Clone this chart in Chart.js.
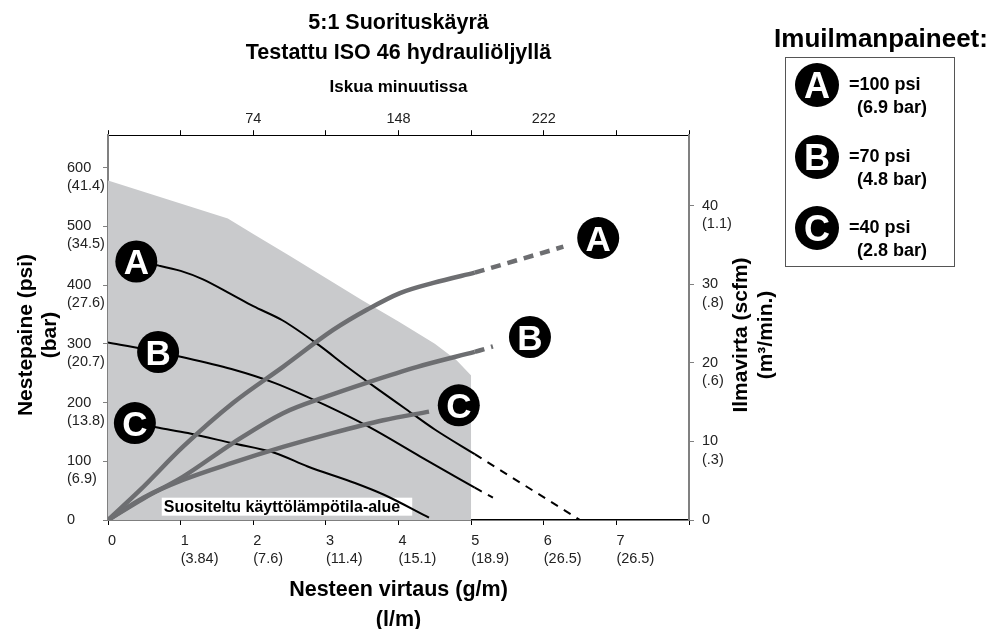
<!DOCTYPE html>
<html>
<head>
<meta charset="utf-8">
<script src="https://cdn.jsdelivr.net/npm/chart.js@4.4.1/dist/chart.umd.min.js"></script>
<style>
  html, body { margin: 0; padding: 0; background: #fff; }
</style>
</head>
<body>
<canvas id="pumpChart" width="993" height="629"></canvas>
<script>
// axis ticks and their metric equivalents
var flowTicks = [0, 1, 2, 3, 4, 5, 6, 7];
var flowLpm = ['', '(3.84)', '(7.6)', '(11.4)', '(15.1)', '(18.9)', '(26.5)', '(26.5)'];
var psiTicks = [0, 100, 200, 300, 400, 500, 600];
var psiBar = ['', '(6.9)', '(13.8)', '(20.7)', '(27.6)', '(34.5)', '(41.4)'];
var scfmTicks = [0, 10, 20, 30, 40];
var scfmM3 = ['', '(.3)', '(.6)', '(.8)', '(1.1)'];
var cycleLabels = [74, 148, 222];

// recommended operating range (grey area), flow g/m vs psi
var envelopeFlow = [0, 1.65, 2.0, 2.5, 3.0, 3.5, 4.0, 4.5, 4.8, 5.0, 5.0];
var envelopePsi = [578, 513, 487, 450, 412, 374, 338, 300, 272, 246, 0];

// fluid pressure curves (psi)
var pressFlowA = [0.39, 0.7, 1.0, 1.3, 1.7, 2.0, 2.4, 2.9, 3.3, 3.7, 4.1, 4.5, 5.05];
var pressPsiA = [440, 433, 424, 410, 384, 364, 340, 298, 260, 224, 189, 154, 112];
var pressDashFlowA = [5.05, 6.5];
var pressDashPsiA = [112, 0];
var pressFlowB = [0, 0.5, 1.0, 1.7, 2.3, 3.0, 3.6, 4.3, 5.05];
var pressPsiB = [302, 291, 278, 257, 233, 195, 158, 108, 55];
var pressDashFlowB = [5.05, 5.3];
var pressDashPsiB = [55, 38];
var pressFlowC = [0.37, 0.7, 1.1, 1.7, 2.3, 2.75, 3.4, 3.8, 4.42];
var pressPsiC = [165, 157, 148, 131, 114, 91, 63, 43, 4];

// air consumption curves (scfm)
var airFlowA = [0, 0.44, 1.03, 1.72, 2.41, 3.1, 3.57, 4.02, 4.48, 5.05];
var airScfmA = [0, 3.8, 9.3, 14.9, 19.5, 24.2, 26.8, 28.9, 30.2, 31.5];
var airDashFlowA = [5.05, 6.27];
var airDashScfmA = [31.5, 34.8];
var airFlowB = [0, 0.5, 1.03, 1.72, 2.41, 3.0, 3.57, 4.26, 5.05];
var airScfmB = [0, 2.8, 5.5, 9.8, 13.6, 15.7, 17.5, 19.5, 21.4];
var airDashFlowB = [5.05, 5.3];
var airDashScfmB = [21.4, 22.1];
var airFlowC = [0, 0.5, 1.03, 1.72, 2.41, 3.1, 3.79, 4.42];
var airScfmC = [0, 2.9, 5.1, 7.3, 9.3, 11.1, 12.7, 13.8];

// curve markers
var badgeLetters = ['A', 'B', 'C'];
var pressBadgeFlow = [0.39, 0.69, 0.37];
var pressBadgePsi = [440, 286, 165];
var airBadgeFlow = [6.75, 5.81, 4.83];
var airBadgeScfm = [35.9, 23.3, 14.6];

var legendTitle = 'Imuilmanpaineet:';
var legendLines = [['=100 psi', '(6.9 bar)'], ['=70 psi', '(4.8 bar)'], ['=40 psi', '(2.8 bar)']];
var rangeLabel = 'Suositeltu käyttölämpötila-alue';

var sans = "'Liberation Sans', Arial, Helvetica, sans-serif";
var AIR = '#6d6e71';
var AXIS_GREY = '#808080';

function pts(xs, ys) {
    return xs.map(function(x, i) { return { x: x, y: ys[i] }; });
}

function drawLetter(ctx, x, y, letter, size) {
    ctx.save();
    ctx.fillStyle = '#fff';
    ctx.font = 'bold ' + size + 'px ' + sans;
    ctx.textAlign = 'center';
    ctx.textBaseline = 'alphabetic';
    ctx.fillText(letter, x, y + size * 0.36);
    ctx.restore();
}

function pressLine(xs, ys, dashed) {
    return {
        data: pts(xs, ys), yAxisID: 'y', borderColor: '#000', borderWidth: 2,
        borderDash: dashed ? [8, 7] : [], pointRadius: 0,
        cubicInterpolationMode: 'monotone', fill: false, order: 2
    };
}

function airLine(xs, ys, dashed) {
    return {
        data: pts(xs, ys), yAxisID: 'y1', borderColor: AIR, borderWidth: 4.5,
        borderDash: dashed ? [10, 7] : [], pointRadius: 0, borderCapStyle: 'butt',
        cubicInterpolationMode: 'monotone', fill: false, order: 1
    };
}

// white label over the grey area, drawn right after the fill
var rangeLabelPlugin = {
    id: 'rangeLabel',
    afterDatasetDraw: function(chart, args) {
        if (chart.data.datasets[args.index].label !== 'envelope') return;
        var ctx = chart.ctx;
        var left = chart.scales.x.getPixelForValue(0.74);
        var top = chart.scales.y.getPixelForValue(38);
        ctx.save();
        ctx.font = 'bold 16px ' + sans;
        var w = ctx.measureText(rangeLabel).width;
        ctx.fillStyle = '#fff';
        ctx.fillRect(left, top, w + 14, 18);
        ctx.fillStyle = '#000';
        ctx.textBaseline = 'middle';
        ctx.fillText(rangeLabel, left + 2, top + 9.5);
        ctx.restore();
    }
};

var badgePlugin = {
    id: 'badges',
    afterDatasetsDraw: function(chart) {
        var ctx = chart.ctx;
        chart.data.datasets.forEach(function(ds, i) {
            if (!ds.badges) return;
            chart.getDatasetMeta(i).data.forEach(function(pt, j) {
                drawLetter(ctx, pt.x, pt.y, ds.badges[j], 35);
            });
        });
    }
};

// rotated side titles, both reading bottom to top
var sideTitlePlugin = {
    id: 'sideTitles',
    afterDraw: function(chart) {
        var ctx = chart.ctx;
        ctx.save();
        ctx.fillStyle = '#000';
        ctx.font = 'bold 21px ' + sans;
        ctx.textAlign = 'center';
        ctx.textBaseline = 'middle';
        [[26, 'Nestepaine (psi)'], [50, '(bar)'], [741, 'Ilmavirta (scfm)'], [766, '(m³/min.)']].forEach(function(t) {
            ctx.save();
            ctx.translate(t[0], 335);
            ctx.rotate(-Math.PI / 2);
            ctx.fillText(t[1], 0, 0);
            ctx.restore();
        });
        ctx.restore();
    }
};

var legendBoxPlugin = {
    id: 'legendBox',
    afterDraw: function(chart) {
        var ctx = chart.ctx;
        ctx.save();
        ctx.fillStyle = '#000';
        ctx.font = 'bold 26px ' + sans;
        ctx.textAlign = 'center';
        ctx.textBaseline = 'middle';
        ctx.fillText(legendTitle, 881, 40);
        ctx.strokeStyle = '#555';
        ctx.lineWidth = 1;
        ctx.strokeRect(785.5, 57.5, 169, 209);
        var rowY = [85, 157, 228];
        badgeLetters.forEach(function(letter, i) {
            ctx.beginPath();
            ctx.arc(817, rowY[i], 22, 0, Math.PI * 2);
            ctx.fillStyle = '#000';
            ctx.fill();
            drawLetter(ctx, 817, rowY[i], letter, 36);
            ctx.fillStyle = '#000';
            ctx.font = 'bold 18px ' + sans;
            ctx.textAlign = 'left';
            ctx.fillText(legendLines[i][0], 849, rowY[i]);
            ctx.fillText(legendLines[i][1], 857, rowY[i] + 23);
        });
        ctx.restore();
    }
};

var tickFont = { family: sans, size: 14.5, lineHeight: 1.25 };

var ctx = document.getElementById('pumpChart').getContext('2d');
var pumpChart = new Chart(ctx, {
    type: 'line',
    data: {
        datasets: [
            {
                label: 'envelope', data: pts(envelopeFlow, envelopePsi), yAxisID: 'y',
                borderWidth: 0, pointRadius: 0, tension: 0,
                backgroundColor: '#c9cacc', fill: 'origin', order: 3
            },
            pressLine(pressFlowA, pressPsiA, false),
            pressLine(pressDashFlowA, pressDashPsiA, true),
            pressLine(pressFlowB, pressPsiB, false),
            pressLine(pressDashFlowB, pressDashPsiB, true),
            pressLine(pressFlowC, pressPsiC, false),
            airLine(airFlowA, airScfmA, false),
            airLine(airDashFlowA, airDashScfmA, true),
            airLine(airFlowB, airScfmB, false),
            airLine(airDashFlowB, airDashScfmB, true),
            airLine(airFlowC, airScfmC, false),
            {
                type: 'scatter', data: pts(pressBadgeFlow, pressBadgePsi), yAxisID: 'y',
                badges: badgeLetters, pointRadius: 21, pointHoverRadius: 21,
                backgroundColor: '#000', borderWidth: 0, order: 0
            },
            {
                type: 'scatter', data: pts(airBadgeFlow, airBadgeScfm), yAxisID: 'y1',
                badges: badgeLetters, pointRadius: 21, pointHoverRadius: 21,
                backgroundColor: '#000', borderWidth: 0, order: 0
            }
        ]
    },
    options: {
        responsive: false,
        animation: false,
        layout: { padding: { left: 67, right: 218, top: 0, bottom: 0 } },
        plugins: {
            legend: { display: false },
            tooltip: { enabled: false },
            title: {
                display: true,
                fullSize: false,
                text: ['5:1 Suorituskäyrä', 'Testattu ISO 46 hydrauliöljyllä'],
                color: '#000',
                font: { family: sans, size: 21.5, weight: 'bold', lineHeight: 1.4 },
                padding: { top: 8, bottom: 4 }
            }
        },
        scales: {
            x: {
                type: 'linear', position: 'bottom', min: 0, max: 8,
                border: { color: '#000', width: 1.5 },
                grid: { drawOnChartArea: false, color: '#000', tickLength: 5 },
                ticks: {
                    stepSize: 1, autoSkip: false, maxRotation: 0, align: 'start',
                    padding: 7, color: '#222', font: tickFont,
                    callback: function(value) {
                        var i = flowTicks.indexOf(value);
                        if (i < 0) return '';
                        return i === 0 ? '0' : [String(value), flowLpm[i]];
                    }
                },
                title: {
                    display: true, text: ['Nesteen virtaus (g/m)', '(l/m)'], color: '#000',
                    font: { family: sans, size: 21.5, weight: 'bold', lineHeight: 1.4 },
                    padding: { top: 0, bottom: -6 }
                },
                afterFit: function(scale) { scale.height = 109; }
            },
            x2: {
                type: 'linear', position: 'top', min: 0, max: 296,
                border: { color: '#000', width: 1 },
                grid: { drawOnChartArea: false, color: '#000', tickLength: 5 },
                ticks: {
                    stepSize: 37, autoSkip: false, maxRotation: 0, padding: 2,
                    color: '#222', font: tickFont,
                    callback: function(value) {
                        return cycleLabels.indexOf(value) >= 0 ? String(value) : '';
                    }
                },
                title: {
                    display: true, text: 'Iskua minuutissa', color: '#000',
                    font: { family: sans, size: 17, weight: 'bold' },
                    padding: { top: 5, bottom: 0 }
                },
                afterFit: function(scale) { scale.height = 63; }
            },
            y: {
                type: 'linear', position: 'left', min: 0, max: 655,
                border: { color: AXIS_GREY, width: 2 },
                grid: { drawOnChartArea: false, color: AXIS_GREY, tickLength: 5 },
                ticks: {
                    stepSize: 100, includeBounds: false, crossAlign: 'far', padding: -3,
                    color: '#222', font: tickFont,
                    callback: function(value) {
                        var i = psiTicks.indexOf(value);
                        if (i < 0) return '';
                        return i === 0 ? '0' : ['', String(value), psiBar[i]];
                    }
                },
                afterFit: function(scale) { scale.width = 41; }
            },
            y1: {
                type: 'linear', position: 'right', min: 0, max: 49,
                border: { color: AXIS_GREY, width: 2 },
                grid: { drawOnChartArea: false, color: AXIS_GREY, tickLength: 5 },
                ticks: {
                    stepSize: 10, includeBounds: false, padding: 8,
                    color: '#222', font: tickFont,
                    callback: function(value) {
                        var i = scfmTicks.indexOf(value);
                        if (i < 0) return '';
                        return i === 0 ? '0' : ['', String(value), scfmM3[i]];
                    }
                },
                afterFit: function(scale) { scale.width = 86; }
            }
        }
    },
    plugins: [rangeLabelPlugin, badgePlugin, sideTitlePlugin, legendBoxPlugin]
});
</script>
</body>
</html>
